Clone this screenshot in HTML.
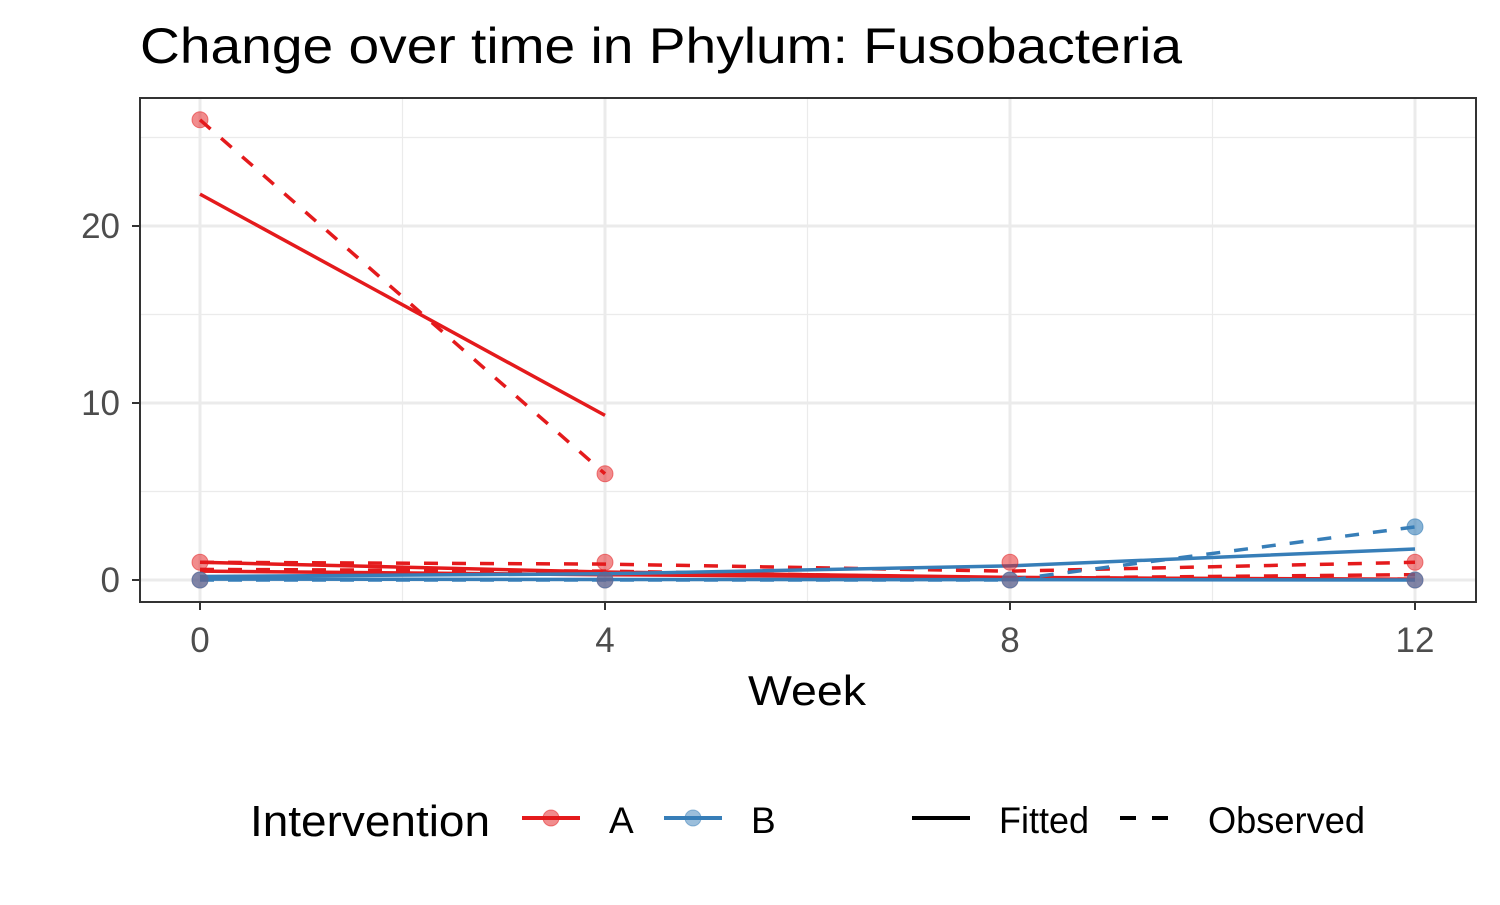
<!DOCTYPE html>
<html><head><meta charset="utf-8"><style>
body{margin:0;background:#fff;font-family:"Liberation Sans",Arial,sans-serif}
svg text{font-family:"Liberation Sans",Arial,sans-serif}
</style></head><body>
<svg id="c" width="1500" height="900" xmlns="http://www.w3.org/2000/svg">
<rect width="1500" height="900" fill="#fff"/>
<text x="140" y="63" font-size="50" textLength="1042" lengthAdjust="spacingAndGlyphs" fill="#000">Change over time in Phylum: Fusobacteria</text>
<g id="grid"></g>
<g id="marks"></g>
<rect x="140" y="98" width="1336" height="504" fill="none" stroke="#333" stroke-width="2"/>
<g id="axes"></g>
<text x="748" y="705" font-size="42" textLength="118" lengthAdjust="spacingAndGlyphs">Week</text>
<g>
<text x="250" y="836" font-size="44" textLength="240" lengthAdjust="spacingAndGlyphs">Intervention</text>
<g><line x1="522" y1="818" x2="580" y2="818" stroke="#E41A1C" stroke-width="4"/><circle cx="551" cy="818" r="8" fill="#E41A1C" fill-opacity="0.5" stroke="#E41A1C" stroke-opacity="0.5"/><text x="609" y="833" font-size="37">A</text></g>
<g><line x1="664" y1="818" x2="722" y2="818" stroke="#377EB8" stroke-width="4"/><circle cx="693" cy="818" r="8" fill="#377EB8" fill-opacity="0.5" stroke="#377EB8" stroke-opacity="0.5"/><text x="751" y="833" font-size="37">B</text></g>
<g><line x1="912" y1="818" x2="970" y2="818" stroke="#000" stroke-width="4"/><text x="999" y="833" font-size="37" textLength="90" lengthAdjust="spacingAndGlyphs">Fitted</text></g>
<g><line x1="1120" y1="818" x2="1170" y2="818" stroke="#000" stroke-width="4" stroke-dasharray="16,16"/><text x="1208" y="833" font-size="37" textLength="157" lengthAdjust="spacingAndGlyphs">Observed</text></g>
</g>
</svg>
<script>
const weeks=[0,4,8,12];
const yTicks=[0,10,20];
const xTicks=[0,4,8,12];
const obsA1=[26,6,null,null];
const fitA1=[21.8,9.3,null,null];
const obsA2=[1,0.9,0.5,1];
const fitA2=[1.0,0.45,0.15,0.02];
const fitA3=[0.5,0.3,0.12,0.05];
const obsA3=[0.6,0.5,0.1,0.3];
const obsB1=[0,0,0,3];
const fitB1=[0.2,0.35,0.8,1.75];
const fitB2=[0.05,0.03,0.02,0];
const ptsA=[[0,26],[0,1],[0,0],[4,6],[4,1],[4,0],[8,1],[8,0],[12,1],[12,0]];
const ptsB=[[0,0],[4,0],[8,0],[12,3],[12,0]];
const X=w=>200+w*(1415-200)/12;
const Y=v=>580-v*(580-226)/20;
const NS="http://www.w3.org/2000/svg";
function mk(t,a,p){const e=document.createElementNS(NS,t);for(const k in a)e.setAttribute(k,a[k]);p.appendChild(e);return e;}
const grid=document.getElementById('grid'),marks=document.getElementById('marks'),axes=document.getElementById('axes');
[5,15,25].forEach(v=>{const l=mk('line',{x1:140,x2:1476,y1:Y(v),y2:Y(v),stroke:'#ebebeb','stroke-width':1.2},grid);});
[2,6,10].forEach(v=>{const l=mk('line',{y1:98,y2:602,x1:X(v),x2:X(v),stroke:'#ebebeb','stroke-width':1.2},grid);});
yTicks.forEach(v=>{const l=mk('line',{x1:140,x2:1476,y1:Y(v),y2:Y(v),stroke:'#ebebeb','stroke-width':3},grid);
const t=mk('line',{x1:132,x2:140,y1:Y(v),y2:Y(v),stroke:'#333','stroke-width':2},axes);
const tx=mk('text',{x:120,y:Y(v)+12,'font-size':35,'text-anchor':'end',fill:'#4d4d4d'},axes);tx.textContent=v;});
xTicks.forEach(v=>{const l=mk('line',{y1:98,y2:602,x1:X(v),x2:X(v),stroke:'#ebebeb','stroke-width':3},grid);
const t=mk('line',{y1:602,y2:610,x1:X(v),x2:X(v),stroke:'#333','stroke-width':2},axes);
const tx=mk('text',{x:X(v),y:652,'font-size':35,'text-anchor':'middle',fill:'#4d4d4d'},axes);tx.textContent=v;});
function line(vals,col,dash,name){const p=[];vals.forEach((v,i)=>{if(v!==null)p.push(X(weeks[i])+','+Y(v));});
const e=mk('polyline',{points:p.join(' '),fill:'none',stroke:col,'stroke-width':3.5},marks);if(dash)e.setAttribute('stroke-dasharray','14,14');
}
const R='#E41A1C',B='#377EB8';
line(obsA2,R,true,'observed-line-a');line(obsA3,R,true,'observed-line-a');
line(fitA2,R,false,'fitted-line-a');line(fitA3,R,false,'fitted-line-a');
line(obsB1,B,true,'observed-line-b');line(fitB1,B,false,'fitted-line-b');line(fitB2,B,false,'fitted-line-b');
line(obsA1,R,true,'observed-line-a');line(fitA1,R,false,'fitted-line-a');
ptsA.forEach(p=>{const c=mk('circle',{cx:X(p[0]),cy:Y(p[1]),r:8,fill:R,'fill-opacity':0.5,stroke:R,'stroke-opacity':0.5},marks);});
ptsB.forEach(p=>{const c=mk('circle',{cx:X(p[0]),cy:Y(p[1]),r:8,fill:B,'fill-opacity':0.6,stroke:B,'stroke-opacity':0.6},marks);});
</script>
</body></html>
